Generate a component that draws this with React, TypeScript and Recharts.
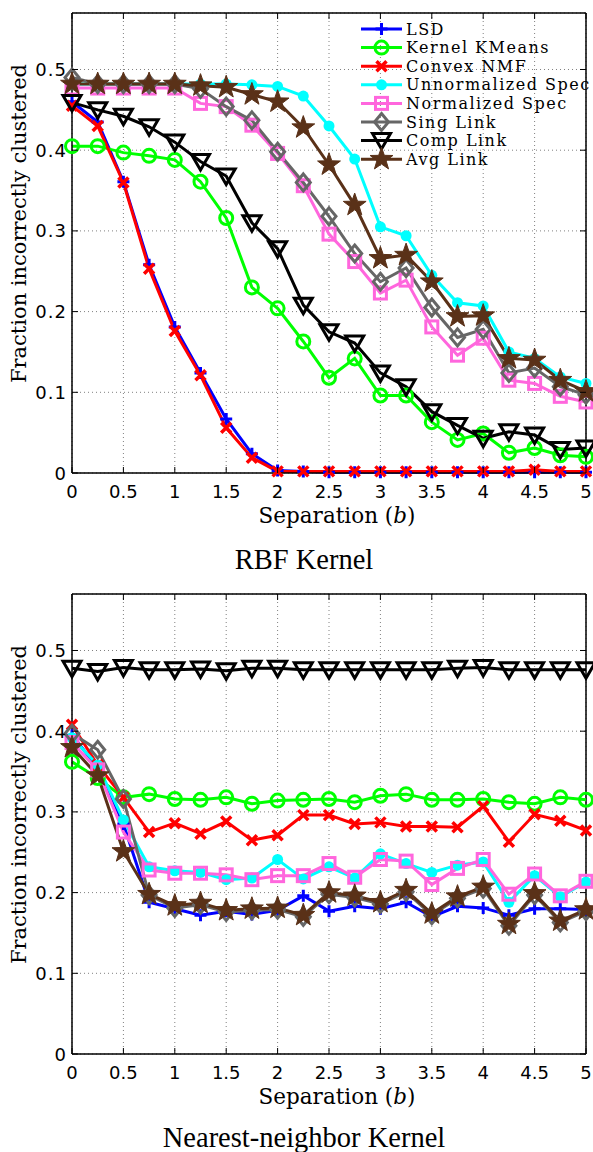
import React from 'react';
import { LineChart, Line, XAxis, YAxis, CartesianGrid, ReferenceLine, Legend } from 'recharts';

// separation b, one point every 0.25
const SEPARATION = [0, 0.25, 0.5, 0.75, 1, 1.25, 1.5, 1.75, 2, 2.25, 2.5, 2.75, 3, 3.25, 3.5, 3.75, 4, 4.25, 4.5, 4.75, 5];
const X_TICKS = [0, 0.5, 1, 1.5, 2, 2.5, 3, 3.5, 4, 4.5, 5];
const Y_TICKS = [0, 0.1, 0.2, 0.3, 0.4, 0.5];
const Y_MAX = 0.57;

// RBF kernel
const LSD_RBF = [0.46, 0.435, 0.361, 0.258, 0.181, 0.124, 0.067, 0.024, 0.003, 0.002, 0.001, 0.001, 0.001, 0.001, 0.001, 0.001, 0.001, 0.001, 0.001, 0.001, 0.001];
const KKM_RBF = [0.405, 0.405, 0.397, 0.393, 0.388, 0.361, 0.316, 0.23, 0.204, 0.163, 0.118, 0.142, 0.096, 0.096, 0.063, 0.041, 0.049, 0.025, 0.031, 0.022, 0.02];
const CNMF_RBF = [0.455, 0.43, 0.36, 0.253, 0.176, 0.121, 0.056, 0.019, 0.002, 0.002, 0.002, 0.002, 0.002, 0.002, 0.002, 0.002, 0.002, 0.002, 0.004, 0.002, 0.002];
const USPEC_RBF = [0.482, 0.482, 0.482, 0.482, 0.482, 0.482, 0.482, 0.481, 0.479, 0.467, 0.43, 0.389, 0.305, 0.294, 0.245, 0.211, 0.207, 0.15, 0.142, 0.119, 0.111];
const NSPEC_RBF = [0.477, 0.477, 0.477, 0.477, 0.477, 0.458, 0.454, 0.431, 0.396, 0.356, 0.296, 0.262, 0.223, 0.239, 0.181, 0.146, 0.167, 0.115, 0.111, 0.095, 0.088];
const SING_RBF = [0.49, 0.482, 0.482, 0.482, 0.482, 0.476, 0.454, 0.437, 0.398, 0.36, 0.318, 0.272, 0.237, 0.254, 0.205, 0.168, 0.178, 0.124, 0.13, 0.107, 0.097];
const COMP_RBF = [0.459, 0.45, 0.442, 0.429, 0.41, 0.386, 0.368, 0.31, 0.278, 0.208, 0.175, 0.161, 0.124, 0.107, 0.076, 0.059, 0.043, 0.051, 0.047, 0.029, 0.031];
const AVG_RBF = [0.482, 0.482, 0.482, 0.482, 0.482, 0.48, 0.478, 0.469, 0.46, 0.428, 0.382, 0.332, 0.266, 0.27, 0.237, 0.194, 0.195, 0.142, 0.14, 0.115, 0.101];

// nearest-neighbor kernel
const LSD_NN = [0.395, 0.355, 0.285, 0.188, 0.18, 0.172, 0.177, 0.173, 0.178, 0.196, 0.177, 0.183, 0.18, 0.188, 0.17, 0.183, 0.181, 0.172, 0.18, 0.18, 0.179];
const KKM_NN = [0.362, 0.342, 0.318, 0.322, 0.316, 0.315, 0.318, 0.31, 0.314, 0.315, 0.316, 0.312, 0.32, 0.322, 0.315, 0.315, 0.316, 0.312, 0.31, 0.318, 0.315];
const CNMF_NN = [0.408, 0.358, 0.318, 0.275, 0.286, 0.273, 0.288, 0.265, 0.271, 0.296, 0.296, 0.285, 0.287, 0.282, 0.282, 0.281, 0.307, 0.263, 0.297, 0.289, 0.277];
const USPEC_NN = [0.392, 0.358, 0.29, 0.232, 0.227, 0.225, 0.216, 0.218, 0.241, 0.217, 0.232, 0.218, 0.248, 0.236, 0.225, 0.234, 0.238, 0.188, 0.221, 0.195, 0.213];
const NSPEC_NN = [0.386, 0.352, 0.275, 0.228, 0.224, 0.224, 0.222, 0.216, 0.221, 0.221, 0.236, 0.219, 0.241, 0.239, 0.21, 0.23, 0.241, 0.198, 0.223, 0.196, 0.214];
const SING_NN = [0.397, 0.377, 0.316, 0.197, 0.181, 0.185, 0.176, 0.178, 0.179, 0.17, 0.198, 0.194, 0.186, 0.201, 0.172, 0.193, 0.205, 0.159, 0.197, 0.163, 0.177];
const COMP_NN = [0.478, 0.474, 0.479, 0.476, 0.476, 0.477, 0.475, 0.478, 0.478, 0.476, 0.476, 0.476, 0.476, 0.476, 0.476, 0.478, 0.479, 0.476, 0.476, 0.476, 0.476];
const AVG_NN = [0.38, 0.345, 0.251, 0.198, 0.184, 0.187, 0.178, 0.18, 0.181, 0.172, 0.2, 0.196, 0.188, 0.203, 0.174, 0.195, 0.207, 0.161, 0.199, 0.165, 0.179];

const SERIES = [
  { key: 'lsd', name: 'LSD', color: '#0000ff', marker: 'plus' },
  { key: 'kkm', name: 'Kernel KMeans', color: '#00ff00', marker: 'circle' },
  { key: 'cnmf', name: 'Convex NMF', color: '#ff0000', marker: 'x' },
  { key: 'uspec', name: 'Unnormalized Spec', color: '#00ffff', marker: 'dot' },
  { key: 'nspec', name: 'Normalized Spec', color: '#ff66dd', marker: 'square' },
  { key: 'sing', name: 'Sing Link', color: '#666666', marker: 'diamond' },
  { key: 'comp', name: 'Comp Link', color: '#000000', marker: 'tri' },
  { key: 'avg', name: 'Avg Link', color: '#5a3118', marker: 'star' },
];

const rbfRows = SEPARATION.map((b, i) => ({
  b, lsd: LSD_RBF[i], kkm: KKM_RBF[i], cnmf: CNMF_RBF[i], uspec: USPEC_RBF[i],
  nspec: NSPEC_RBF[i], sing: SING_RBF[i], comp: COMP_RBF[i], avg: AVG_RBF[i],
}));
const nnRows = SEPARATION.map((b, i) => ({
  b, lsd: LSD_NN[i], kkm: KKM_NN[i], cnmf: CNMF_NN[i], uspec: USPEC_NN[i],
  nspec: NSPEC_NN[i], sing: SING_NN[i], comp: COMP_NN[i], avg: AVG_NN[i],
}));

const PLOT_TOP = 13;
const PLOT_RIGHT = 586;

const starPath = (cx: number, cy: number, ro: number, ri: number) => {
  let d = '';
  for (let k = 0; k < 10; k++) {
    const r = k % 2 === 0 ? ro : ri;
    const a = -Math.PI / 2 + (k * Math.PI) / 5;
    d += (k === 0 ? 'M' : 'L') + (cx + r * Math.cos(a)).toFixed(2) + ',' + (cy + r * Math.sin(a)).toFixed(2);
  }
  return d + 'Z';
};

const Marker = ({ type, color, cx, cy }: { type: string; color: string; cx: number; cy: number }) => {
  switch (type) {
    case 'plus':
      return <path d={`M${cx - 6},${cy}H${cx + 6}M${cx},${cy - 6}V${cy + 6}`} stroke={color} strokeWidth={3} fill="none" />;
    case 'circle':
      return <circle cx={cx} cy={cy} r={6.5} stroke={color} strokeWidth={3} fill="none" />;
    case 'x':
      return <path d={`M${cx - 5},${cy - 5}L${cx + 5},${cy + 5}M${cx - 5},${cy + 5}L${cx + 5},${cy - 5}`} stroke={color} strokeWidth={3.5} fill="none" />;
    case 'dot':
      return <circle cx={cx} cy={cy} r={5.5} fill={color} />;
    case 'square':
      return <rect x={cx - 6} y={cy - 6} width={12} height={12} stroke={color} strokeWidth={3} fill="none" />;
    case 'diamond':
      return <path d={`M${cx},${cy - 8.5}L${cx + 7},${cy}L${cx},${cy + 8.5}L${cx - 7},${cy}Z`} stroke={color} strokeWidth={3} fill="none" />;
    case 'tri':
      return <path d={`M${cx - 9},${cy - 7}L${cx + 9},${cy - 7}L${cx},${cy + 8.5}Z`} stroke={color} strokeWidth={3} fill="none" />;
    case 'star':
      return <path d={starPath(cx, cy, 12, 4.8)} fill={color} stroke={color} strokeWidth={1} />;
    default:
      return null;
  }
};

const XTick = (props: any) => {
  const { x, y, payload } = props;
  return (
    <g>
      <line x1={x} x2={x} y1={y} y2={y - 6} stroke="#000" />
      <line x1={x} x2={x} y1={PLOT_TOP} y2={PLOT_TOP + 6} stroke="#000" />
      <text x={x} y={y + 24.5} textAnchor="middle" fontFamily="DejaVu Sans" fontSize={18} fill="#000">
        {payload.value}
      </text>
    </g>
  );
};

const YTick = (props: any) => {
  const { x, y, payload } = props;
  return (
    <g>
      <line x1={x} x2={x + 6} y1={y} y2={y} stroke="#000" />
      <line x1={PLOT_RIGHT} x2={PLOT_RIGHT - 6} y1={y} y2={y} stroke="#000" />
      <text x={x - 5} y={y + 6.5} textAnchor="end" fontFamily="DejaVu Sans" fontSize={18} letterSpacing={1} fill="#000">
        {payload.value}
      </text>
    </g>
  );
};

const LegendBox = () => (
  <svg width={232} height={160} style={{ overflow: 'visible' }}>
    {SERIES.map((s, i) => {
      const y = 10 + i * 18.6;
      return (
        <g key={s.key}>
          <line x1={0} x2={41} y1={y} y2={y} stroke={s.color} strokeWidth={3} />
          <Marker type={s.marker} color={s.color} cx={20.5} cy={y} />
          <text x={45} y={y + 5.5} fontFamily="DejaVu Serif" fontSize={16} letterSpacing={1.5} fill="#000">
            {s.name}
          </text>
        </g>
      );
    })}
  </svg>
);

const Panel = ({ rows, showLegend }: { rows: any[]; showLegend: boolean }) => (
  <LineChart width={593} height={520} data={rows} margin={{ top: 13, right: 7, left: 12, bottom: 17 }}>
    <CartesianGrid stroke="#808080" strokeDasharray="1 3" />
    <XAxis
      dataKey="b"
      type="number"
      domain={[0, 5]}
      ticks={X_TICKS}
      interval={0}
      height={30}
      tickSize={0}
      tickMargin={0}
      tickLine={false}
      axisLine={{ stroke: '#000', strokeWidth: 1.5 }}
      tick={(p: any) => <XTick {...p} />}
    />
    <YAxis
      type="number"
      domain={[0, Y_MAX]}
      ticks={Y_TICKS}
      interval={0}
      width={60}
      tickSize={0}
      tickMargin={0}
      tickLine={false}
      axisLine={{ stroke: '#000', strokeWidth: 1.5 }}
      tick={(p: any) => <YTick {...p} />}
    />
    <ReferenceLine y={Y_MAX} stroke="#000" strokeWidth={1.5} />
    <ReferenceLine x={5} stroke="#000" strokeWidth={1.5} />
    {SERIES.map((s) => (
      <Line
        key={s.key}
        type="linear"
        dataKey={s.key}
        name={s.name}
        stroke={s.color}
        strokeWidth={3}
        isAnimationActive={false}
        activeDot={false}
        dot={(p: any) => <Marker key={`${s.key}-${p.index}`} type={s.marker} color={s.color} cx={p.cx} cy={p.cy} />}
      />
    ))}
    {showLegend && (
      <Legend
        layout="horizontal"
        verticalAlign="middle"
        align="center"
        content={() => <LegendBox />}
        wrapperStyle={{ left: 361, top: 19, width: 232, height: 160 }}
      />
    )}
  </LineChart>
);

const Labels = ({ offset, title, titleY }: { offset: number; title: string; titleY: number }) => (
  <g>
    <text
      transform={`translate(26,${223.5 + offset}) rotate(-90)`}
      textAnchor="middle"
      fontFamily="DejaVu Serif"
      fontSize={21}
      fill="#000"
    >
      Fraction incorrectly clustered
    </text>
    <text x={337} y={523 + offset} textAnchor="middle" fontFamily="DejaVu Serif" fontSize={21.5} fill="#000">
      Separation (<tspan fontStyle="italic">b</tspan>)
    </text>
    <text x={304} y={titleY} textAnchor="middle" fontFamily="Liberation Serif" fontSize={28.5} fill="#000">
      {title}
    </text>
  </g>
);

export default function App() {
  return (
    <div style={{ position: 'absolute', left: 0, top: 0, width: 593, height: 1152, background: '#fff', overflow: 'hidden' }}>
      <div style={{ position: 'absolute', left: 0, top: 0 }}>
        <Panel rows={rbfRows} showLegend={true} />
      </div>
      <div style={{ position: 'absolute', left: 0, top: 581 }}>
        <Panel rows={nnRows} showLegend={false} />
      </div>
      <svg width={593} height={1152} style={{ position: 'absolute', left: 0, top: 0, pointerEvents: 'none' }}>
        <Labels offset={0} title="RBF Kernel" titleY={568.5} />
        <Labels offset={581} title="Nearest-neighbor Kernel" titleY={1146.5} />
      </svg>
    </div>
  );
}
